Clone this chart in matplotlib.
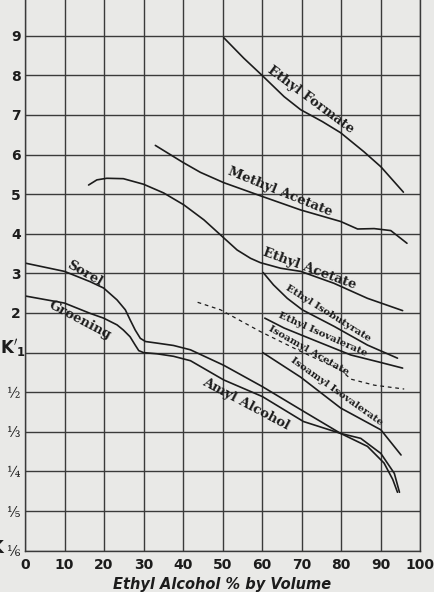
"""
Distribution ratio K'1 of esters and amyl alcohol against ethyl alcohol
strength, redrawn from an old printed chart.
"""

import matplotlib
matplotlib.use('Agg')
import matplotlib.pyplot as plt
import numpy as np

# curve readings: ethyl alcohol % by volume and K'1
ethyl_formate_x = [50.3, 55.4, 60.1, 65.6, 69.8, 75.3, 79.9, 85.8, 90.1, 95.8]
ethyl_formate_k = [8.95, 8.43, 7.99, 7.46, 7.13, 6.83, 6.55, 6.07, 5.69, 5.05]

methyl_acetate_x = [33.0, 40.0, 44.4, 50.3, 60.1, 69.8, 79.9, 84.2, 88.4, 92.6, 96.7]
methyl_acetate_k = [6.23, 5.80, 5.55, 5.29, 4.94, 4.60, 4.31, 4.12, 4.13, 4.08, 3.76]

ethyl_acetate_x = [16.1, 18.2, 20.7, 24.9, 30.0, 35.1, 40.2, 45.3, 49.5, 53.7,
                   57.1, 59.6, 64.7, 69.8, 78.2, 86.7, 95.6]
ethyl_acetate_k = [5.23, 5.36, 5.40, 5.39, 5.25, 5.03, 4.73, 4.35, 3.97, 3.59,
                   3.38, 3.27, 3.13, 3.05, 2.75, 2.37, 2.06]

ethyl_isobutyrate_x = [60.3, 62.9, 66.4, 70.2, 78.3, 86.7, 94.3]
ethyl_isobutyrate_k = [3.02, 2.71, 2.37, 2.08, 1.66, 1.19, 0.877]

ethyl_isovalerate_x = [60.7, 65.6, 74.0, 82.5, 89.3, 95.6]
ethyl_isovalerate_k = [1.87, 1.62, 1.28, 0.943, 0.813, 0.719]

isoamyl_acetate_x = [43.7, 49.5, 59.6, 69.8, 79.9, 82.5, 88.4, 96.0]
isoamyl_acetate_k = [2.27, 2.08, 1.53, 1.03, 0.694, 0.599, 0.549, 0.521]

isoamyl_isovalerate_x = [60.2, 69.8, 79.9, 90.1, 95.2]
isoamyl_isovalerate_k = [1.0, 0.617, 0.417, 0.339, 0.279]

sorel_x = [0, 10, 16.5, 19.9, 23.3, 25.4, 26.6, 27.9, 29.2, 30.5, 33.4, 37.6,
           41.9, 50.3, 60.1, 70.5, 79.9, 86.7, 90.9, 93.1, 94.3]
sorel_k = [3.26, 3.05, 2.79, 2.63, 2.33, 2.08, 1.83, 1.57, 1.36, 1.28, 1.24,
           1.18, 1.07, 0.758, 0.538, 0.403, 0.329, 0.297, 0.264, 0.238, 0.221]

groening_x = [0, 10, 16.5, 19.9, 23.3, 24.9, 26.6, 27.9, 28.8, 30.0, 33.4,
              37.6, 41.9, 50.3, 60.1, 70.5, 79.9, 85.0, 90.1, 93.5, 94.8]
groening_k = [2.43, 2.25, 1.99, 1.87, 1.70, 1.57, 1.40, 1.19, 1.05, 1.0,
              0.971, 0.915, 0.83, 0.592, 0.474, 0.365, 0.329, 0.316, 0.282,
              0.247, 0.221]

x_ticks = [0, 10, 20, 30, 40, 50, 60, 70, 80, 90, 100]
y_ticks = [1 / 6, 1 / 5, 1 / 4, 1 / 3, 1 / 2, 1, 2, 3, 4, 5, 6, 7, 8, 9]
y_tick_labels = ['⅙', '⅕', '¼', '⅓', '½', '',
                 '2', '3', '4', '5', '6', '7', '8', '9']

# label text, position (x, K), angle and size
curve_labels = [
    ('Ethyl Formate', 72.3, 7.38, -36.5, 9.5),
    ('Methyl Acetate', 64.7, 5.07, -22, 9.5),
    ('Ethyl Acetate', 72.1, 3.13, -20, 9.5),
    ('Ethyl Isobutyrate', 76.8, 1.99, -32, 7.3),
    ('Ethyl Isovalerate', 75.3, 1.45, -24, 7.3),
    ('Isoamyl Acetate', 71.7, 1.05, -29.6, 7.3),
    ('Isoamyl Isovalerate', 78.9, 0.505, -35.5, 7.3),
    ('Amyl Alcohol', 55.8, 0.435, -28, 9.5),
    ('Sorel', 15.0, 3.0, -29.7, 9.5),
    ('Groening', 14.0, 1.81, -27.8, 9.5),
]


def k_to_row(k):
    # linear above K'=1, reciprocal (1/2, 1/3, ...) below
    k = np.asarray(k, dtype=float)
    with np.errstate(divide='ignore', invalid='ignore'):
        return np.where(k >= 1, k + 4, 6 - 1 / k)


def row_to_k(r):
    r = np.asarray(r, dtype=float)
    with np.errstate(divide='ignore', invalid='ignore'):
        return np.where(r >= 5, r - 4, 1 / (6 - r))


paper = '#e9e9e7'
ink = '#1c1c1c'
grid_c = '#3a3a3a'

fig = plt.figure(figsize=(4.34, 5.92), dpi=100, facecolor=paper)
ax = fig.add_axes([25 / 434, (592 - 550.7) / 592, 395 / 434, 550.7 / 592])
ax.set_facecolor(paper)
ax.set_yscale('function', functions=(k_to_row, row_to_k))

curves = [
    (ethyl_formate_x, ethyl_formate_k),
    (methyl_acetate_x, methyl_acetate_k),
    (ethyl_acetate_x, ethyl_acetate_k),
    (ethyl_isobutyrate_x, ethyl_isobutyrate_k),
    (ethyl_isovalerate_x, ethyl_isovalerate_k),
    (isoamyl_isovalerate_x, isoamyl_isovalerate_k),
    (sorel_x, sorel_k),
    (groening_x, groening_k),
]
for xs, ks in curves:
    ax.plot(xs, ks, color=ink, lw=1.2, solid_capstyle='round',
            solid_joinstyle='round')
ax.plot(isoamyl_acetate_x, isoamyl_acetate_k, color=ink, lw=0.9,
        ls=(0, (3, 3)))

for text, lx, lk, rot, size in curve_labels:
    ax.text(lx, lk, text, rotation=rot, rotation_mode='anchor',
            ha='center', va='center', fontsize=size, color=ink,
            family='DejaVu Serif', fontweight='bold')

ax.set_xlim(0, 100)
ax.set_ylim(1 / 6, 9.9)
ax.set_xticks(x_ticks)
ax.set_xticklabels([str(v) for v in x_ticks])
ax.set_yticks(y_ticks)
ax.set_yticklabels(y_tick_labels)
ax.minorticks_off()
ax.tick_params(length=0, colors=ink)
ax.tick_params(axis='x', pad=5, labelsize=10)
ax.tick_params(axis='y', pad=3, labelsize=10)
for lbl in ax.get_xticklabels():
    lbl.set_fontweight('bold')
for lbl, txt in zip(ax.get_yticklabels(), y_tick_labels):
    if txt in ('⅙', '⅕', '¼', '⅓', '½'):
        lbl.set_family(['DejaVu Serif', 'DejaVu Sans'])
        lbl.set_fontsize(10)
    else:
        lbl.set_fontweight('bold')

ax.grid(True, color=grid_c, lw=1.0)
ax.set_axisbelow(True)
for side in ('left', 'bottom', 'right'):
    ax.spines[side].set_color(grid_c)
    ax.spines[side].set_linewidth(1.0)
ax.spines['top'].set_visible(False)

# K'1 row label and the K of the bottom label, which runs off the page edge
fig.text(0.5 / 434, 1 - 348 / 592, "$\\mathbf{K}'_{\\mathbf{1}}$",
         ha='left', va='center', fontsize=12, color=ink)
fig.text(3.5 / 434, 1 - 548 / 592, 'K', ha='right', va='center',
         fontsize=12, fontweight='bold', color=ink)

ax.set_xlabel('Ethyl Alcohol % by Volume', fontsize=10.5, fontweight='bold',
              fontstyle='italic', color=ink, labelpad=4)

fig.savefig('out.png', dpi=100, facecolor=paper)
